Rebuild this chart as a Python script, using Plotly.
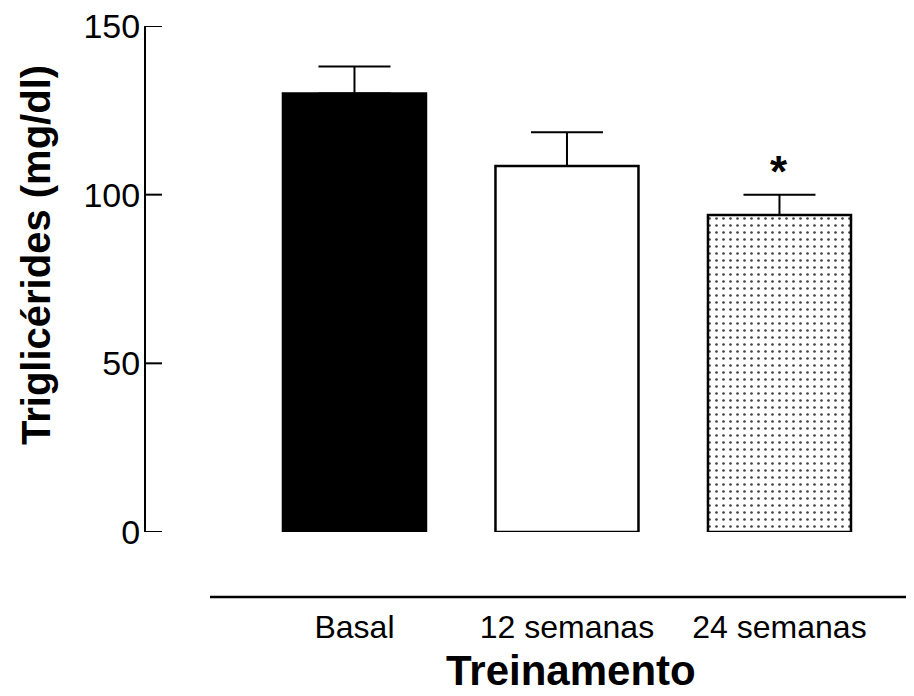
import plotly.graph_objects as go

categories = ["Basal", "12 semanas", "24 semanas"]
means = [130, 108.5, 94]
sem_upper = [8, 10, 6]
sem_lower = [0, 0, 0]
y_ticks = [0, 50, 100, 150]
bar_colors = ["black", "white", "white"]
bar_patterns = ["", "", "."]
significance = ["", "", "*"]

FONT = "Liberation Sans, Arial, Helvetica, sans-serif"

fig = go.Figure()
fig.add_trace(go.Bar(
    x=list(range(len(categories))),
    y=means,
    width=0.673,
    marker=dict(
        color=bar_colors,
        line=dict(color="black", width=2.5),
        pattern=dict(shape=bar_patterns, fgcolor="black", bgcolor="white",
                     fgopacity=1, size=7, solidity=0.12, fillmode="overlay"),
    ),
    error_y=dict(type="data", symmetric=False, array=sem_upper,
                 arrayminus=sem_lower, color="black", thickness=2, width=36),
    showlegend=False,
    hoverinfo="skip",
))

for i, s in enumerate(significance):
    if s:
        fig.add_annotation(x=i, y=means[i] + sem_upper[i] + 7, text=f"<b>{s}</b>",
                           showarrow=False, xref="x", yref="y",
                           font=dict(family=FONT, size=44, color="black"),
                           yanchor="middle")

# inward-pointing y tick marks at the axis tick values
for v in y_ticks:
    fig.add_shape(type="line", xref="paper", yref="y", xsizemode="pixel",
                  xanchor=0, x0=0, x1=16, y0=v, y1=v,
                  line=dict(color="black", width=2))

# separate x-axis baseline
fig.add_shape(type="line", xref="paper", yref="paper",
              x0=64 / 768, x1=1.0, y0=-65 / 506, y1=-65 / 506,
              line=dict(color="black", width=2.5))

fig.add_annotation(text="<b>Triglicérides (mg/dl)</b>", textangle=-90,
                   xref="paper", yref="paper", x=(28 - 138) / 768,
                   y=(524 - 247) / 506, xanchor="center", yanchor="middle",
                   showarrow=False, font=dict(family=FONT, size=40, color="black"))
fig.add_annotation(text="<b>Treinamento</b>",
                   xref="paper", yref="paper", x=(563 - 138) / 768,
                   y=(524 - 662) / 506, xanchor="center", yanchor="middle",
                   showarrow=False, font=dict(family=FONT, size=42, color="black"))

fig.update_layout(
    width=914, height=696,
    margin=dict(l=138, r=8, t=18, b=172),
    paper_bgcolor="white", plot_bgcolor="white",
    xaxis=dict(
        range=[-0.981, 2.633],
        tickmode="array", tickvals=list(range(len(categories))), ticktext=categories,
        showline=False, showgrid=False, zeroline=False, ticks="",
        tickfont=dict(family=FONT, size=32, color="black"),
        ticklabelstandoff=73, automargin=False,
    ),
    yaxis=dict(
        range=[0, 150],
        tickmode="array", tickvals=y_ticks,
        showline=True, linecolor="black", linewidth=2,
        ticks="", showgrid=False, zeroline=False,
        tickfont=dict(family=FONT, size=34, color="black"),
        ticklabeloverflow="allow", automargin=False,
        ticklabelstandoff=-3,
    ),
)

fig.write_html("out.html")
